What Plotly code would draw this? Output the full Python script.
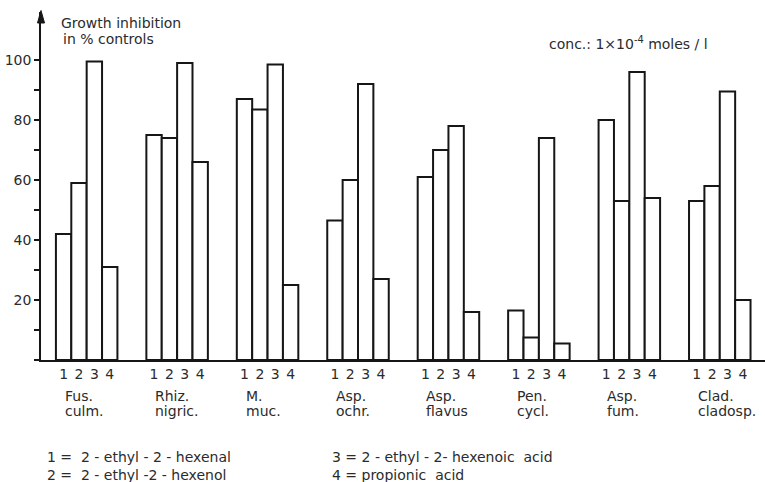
import plotly.graph_objects as go

# Fungal species (two-line labels) and compound codes
fungi_line1 = ["Fus.", "Rhiz.", "M.", "Asp.", "Asp.", "Pen.", "Asp.", "Clad."]
fungi_line2 = ["culm.", "nigric.", "muc.", "ochr.", "flavus", "cycl.", "fum.", "cladosp."]
compound_codes = ["1", "2", "3", "4"]

# Growth inhibition in % of controls, one list per compound
ethyl_hexenal = [42, 75, 87, 46.5, 61, 16.5, 80, 53]
ethyl_hexenol = [59, 74, 83.5, 60, 70, 7.5, 53, 58]
ethyl_hexenoic_acid = [99.5, 99, 98.5, 92, 78, 74, 96, 89.5]
propionic_acid = [31, 66, 25, 27, 16, 5.5, 54, 20]

y_tick_values = [20, 40, 60, 80, 100]
y_tick_text = ["20", "40", "60", "80", "100"]
y_minor_ticks = [0, 10, 30, 50, 70, 90]

legend_left = ["1 =\u00a0 2 - ethyl - 2 - hexenal", "2 =\u00a0 2 - ethyl -2 - hexenol"]
legend_right = ["3 = 2 - ethyl - 2- hexenoic\u00a0 acid", "4 = propionic\u00a0 acid"]

INK = "#161616"
TEXT = "#2b2b2b"
FONT = "DejaVu Sans"

W, H = 765, 482
ML, MR, MT, MB = 41, 0, 12, 122
PW, PH = W - ML - MR, H - MT - MB

BAR_W = 0.17  # width of one bar, in group units


def paper_x(px):
    return (px - ML) / PW


def paper_y(py):
    return (H - MB - py) / PH


series = [ethyl_hexenal, ethyl_hexenol, ethyl_hexenoic_acid, propionic_acid]
groups = list(range(len(fungi_line1)))

fig = go.Figure()
for j, vals in enumerate(series):
    fig.add_trace(go.Bar(
        x=groups,
        y=vals,
        width=BAR_W,
        offset=(j - 2) * BAR_W,
        marker=dict(color="white", line=dict(color=INK, width=2)),
        name=compound_codes[j],
        showlegend=False,
    ))

tick_vals = [g + (j - 1.5) * BAR_W for g in groups for j in range(4)]
tick_text = [compound_codes[j] for g in groups for j in range(4)]

fig.update_layout(
    width=W, height=H,
    margin=dict(l=ML, r=MR, t=MT, b=MB, pad=0),
    paper_bgcolor="white", plot_bgcolor="white",
    font=dict(family=FONT, color=TEXT, size=14),
    barmode="overlay",
    xaxis=dict(
        range=[-0.505, 7.5],
        showline=True, linecolor=INK, linewidth=1.5,
        showgrid=False, zeroline=False,
        ticks="", tickvals=tick_vals, ticktext=tick_text,
        tickfont=dict(size=14, color=TEXT),
    ),
    yaxis=dict(
        range=[0, 116],
        showline=True, linecolor=INK, linewidth=1.5,
        showgrid=False, zeroline=False,
        ticks="outside", ticklen=5, tickwidth=1.5, tickcolor=INK,
        tickvals=y_tick_values, ticktext=y_tick_text,
        tickfont=dict(size=14, color=TEXT),
        minor=dict(tickvals=y_minor_ticks, ticks="outside",
                   ticklen=5, tickwidth=1.5, tickcolor=INK),
    ),
)

# Arrow head on top of the y axis
half_w = 3.5 / PW
head_h = 11 / PH
fig.add_shape(
    type="path", xref="paper", yref="paper",
    path=f"M {-half_w} {1 - head_h} L 0 {1 + 1.5 / PH} L {half_w} {1 - head_h} Z",
    fillcolor=INK, line=dict(color=INK, width=1),
)

annotations = []

# Axis title
annotations.append(dict(xref="paper", yref="paper", x=paper_x(59), y=paper_y(23),
                        xanchor="left", yanchor="middle", showarrow=False,
                        text="Growth inhibition", font=dict(size=14)))
annotations.append(dict(xref="paper", yref="paper", x=paper_x(61), y=paper_y(39),
                        xanchor="left", yanchor="middle", showarrow=False,
                        text="in % controls", font=dict(size=14)))

# Concentration note
annotations.append(dict(xref="paper", yref="paper", x=paper_x(547), y=paper_y(43),
                        xanchor="left", yanchor="middle", showarrow=False,
                        text="conc.: 1\u00d710<sup>-4</sup> moles / l", font=dict(size=14)))

# Species labels below each group
for g in groups:
    annotations.append(dict(xref="x", yref="paper", x=g - 0.265, y=paper_y(396),
                            xanchor="left", yanchor="middle", showarrow=False,
                            text=fungi_line1[g], font=dict(size=14)))
    annotations.append(dict(xref="x", yref="paper", x=g - 0.265, y=paper_y(411),
                            xanchor="left", yanchor="middle", showarrow=False,
                            text=fungi_line2[g], font=dict(size=14)))

# Compound key
for k, (left, right) in enumerate(zip(legend_left, legend_right)):
    yy = paper_y(457 + 18 * k)
    annotations.append(dict(xref="paper", yref="paper", x=paper_x(45), y=yy,
                            xanchor="left", yanchor="middle", showarrow=False,
                            text=left, font=dict(size=14)))
    annotations.append(dict(xref="paper", yref="paper", x=paper_x(330), y=yy,
                            xanchor="left", yanchor="middle", showarrow=False,
                            text=right, font=dict(size=14)))

fig.update_layout(annotations=annotations)

fig.write_html("out.html")
